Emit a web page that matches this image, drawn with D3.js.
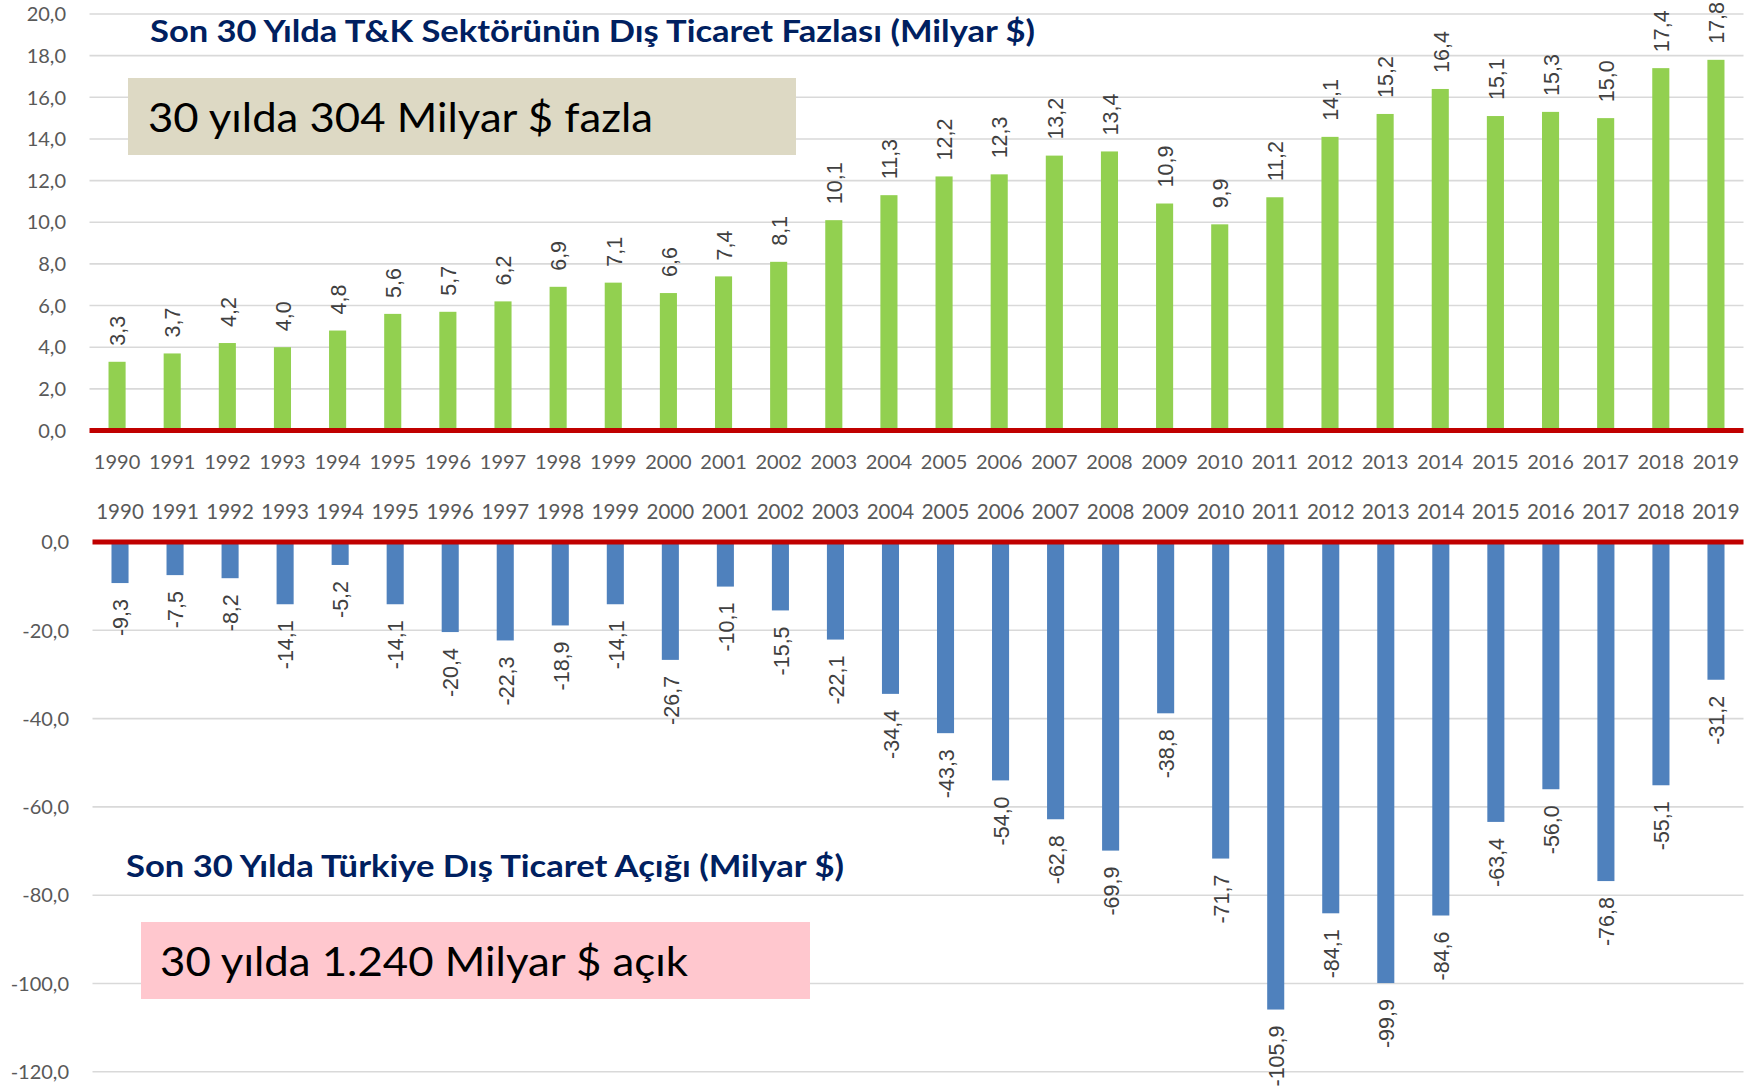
<!DOCTYPE html>
<html><head><meta charset="utf-8">
<script src="https://cdn.jsdelivr.net/npm/d3@7"></script>
<style>
html,body{margin:0;padding:0;background:#fff;}
svg{display:block;}
</style></head>
<body>
<svg id="chart" width="1758" height="1087"></svg>
<script>
const years = ["1990","1991","1992","1993","1994","1995","1996","1997","1998","1999","2000","2001","2002","2003","2004","2005","2006","2007","2008","2009","2010","2011","2012","2013","2014","2015","2016","2017","2018","2019"];
const surplus = [3.3,3.7,4.2,4.0,4.8,5.6,5.7,6.2,6.9,7.1,6.6,7.4,8.1,10.1,11.3,12.2,12.3,13.2,13.4,10.9,9.9,11.2,14.1,15.2,16.4,15.1,15.3,15.0,17.4,17.8];
const deficit = [-9.3,-7.5,-8.2,-14.1,-5.2,-14.1,-20.4,-22.3,-18.9,-14.1,-26.7,-10.1,-15.5,-22.1,-34.4,-43.3,-54.0,-62.8,-69.9,-38.8,-71.7,-105.9,-84.1,-99.9,-84.6,-63.4,-56.0,-76.8,-55.1,-31.2];
const topTicks = [0,2,4,6,8,10,12,14,16,18,20];
const bottomTicks = [0,-20,-40,-60,-80,-100,-120];
const topTitle = "Son 30 Yılda T&K Sektörünün Dış Ticaret Fazlası (Milyar $)";
const topNote = "30 yılda 304 Milyar $ fazla";
const bottomTitle = "Son 30 Yılda Türkiye Dış Ticaret Açığı (Milyar $)";
const bottomNote = "30 yılda 1.240 Milyar $ açık";

const svg = d3.select("#chart");
const fmt = v => d3.format(".1f")(v).replace(".", ",").replace("−","-");
const catFont = "Lato, 'Open Sans', sans-serif";
const valFont = "'Liberation Sans', Arial, sans-serif";
const valSize = 21.5, valGap = 16;

// ---------- TOP CHART ----------
const xTop = d3.scaleBand().domain(years).range([89.5, 1743.5]).paddingInner(0.69).paddingOuter(0.345);
const yTop = d3.scaleLinear().domain([0, 20]).range([430.5, 14]);

const gTop = svg.append("g");
gTop.selectAll("line.grid").data(topTicks.filter(d => d !== 0)).join("line")
  .attr("x1", 89.5).attr("x2", 1743.5)
  .attr("y1", d => yTop(d)).attr("y2", d => yTop(d))
  .attr("stroke", "#D9D9D9").attr("stroke-width", 1.6);
gTop.selectAll("text.ytick").data(topTicks).join("text")
  .attr("x", 66).attr("y", d => yTop(d)).attr("dy", "0.36em")
  .attr("text-anchor", "end").attr("font-family", catFont).attr("font-size", 20)
  .attr("fill", "#595959").text(d => fmt(d));
gTop.selectAll("rect.bar").data(surplus).join("rect")
  .attr("x", (d, i) => xTop(years[i])).attr("width", xTop.bandwidth())
  .attr("y", d => yTop(d)).attr("height", d => yTop(0) - yTop(d))
  .attr("fill", "#92D050");
gTop.append("line").attr("x1", 89.5).attr("x2", 1743.5)
  .attr("y1", yTop(0)).attr("y2", yTop(0))
  .attr("stroke", "#C00000").attr("stroke-width", 5);
gTop.selectAll("text.val").data(surplus).join("text")
  .attr("transform", (d, i) => `translate(${xTop(years[i]) + xTop.bandwidth()/2 + 0.5},${yTop(d) - valGap}) rotate(-90)`)
  .attr("dy", "0.36em").attr("text-anchor", "start")
  .attr("font-family", valFont).attr("font-size", valSize).attr("fill", "#404040")
  .text(d => fmt(d));
gTop.selectAll("text.cat").data(years).join("text")
  .attr("x", d => xTop(d) + xTop.bandwidth()/2).attr("y", 461.5).attr("dy", "0.36em")
  .attr("text-anchor", "middle").attr("font-family", catFont).attr("font-size", 20)
  .attr("fill", "#595959").text(d => d);
gTop.append("text").attr("x", 150).attr("y", 42)
  .attr("font-family", catFont).attr("font-weight", "bold").attr("font-size", 31)
  .attr("fill", "#002060").attr("textLength", 885).attr("lengthAdjust", "spacingAndGlyphs")
  .text(topTitle);
gTop.append("rect").attr("x", 128).attr("y", 78).attr("width", 668).attr("height", 77).attr("fill", "#DDD9C4");
gTop.append("text").attr("x", 148).attr("y", 132)
  .attr("font-family", catFont).attr("font-size", 41).attr("fill", "#000")
  .attr("textLength", 505).attr("lengthAdjust", "spacingAndGlyphs").text(topNote);

// ---------- BOTTOM CHART ----------
const xBot = d3.scaleBand().domain(years).range([92.5, 1743.5]).paddingInner(0.69).paddingOuter(0.345);
const yBot = d3.scaleLinear().domain([-120, 0]).range([1071.8, 542]);

const gBot = svg.append("g");
gBot.selectAll("line.grid").data(bottomTicks.filter(d => d !== 0)).join("line")
  .attr("x1", 92.5).attr("x2", 1743.5)
  .attr("y1", d => yBot(d)).attr("y2", d => yBot(d))
  .attr("stroke", "#D9D9D9").attr("stroke-width", 1.6);
gBot.selectAll("text.ytick").data(bottomTicks).join("text")
  .attr("x", 69).attr("y", d => yBot(d)).attr("dy", "0.36em")
  .attr("text-anchor", "end").attr("font-family", catFont).attr("font-size", 20)
  .attr("fill", "#595959").text(d => fmt(d));
gBot.selectAll("rect.bar").data(deficit).join("rect")
  .attr("x", (d, i) => xBot(years[i])).attr("width", xBot.bandwidth())
  .attr("y", yBot(0)).attr("height", d => yBot(d) - yBot(0))
  .attr("fill", "#4F81BD");
gBot.append("line").attr("x1", 92.5).attr("x2", 1743.5)
  .attr("y1", yBot(0)).attr("y2", yBot(0))
  .attr("stroke", "#C00000").attr("stroke-width", 5);
gBot.selectAll("text.val").data(deficit).join("text")
  .attr("transform", (d, i) => `translate(${xBot(years[i]) + xBot.bandwidth()/2 + 0.5},${yBot(d) + valGap}) rotate(-90)`)
  .attr("dy", "0.36em").attr("text-anchor", "end")
  .attr("font-family", valFont).attr("font-size", valSize).attr("fill", "#404040")
  .text(d => fmt(d));
gBot.selectAll("text.cat").data(years).join("text")
  .attr("x", d => xBot(d) + xBot.bandwidth()/2).attr("y", 511.5).attr("dy", "0.36em")
  .attr("text-anchor", "middle").attr("font-family", catFont).attr("font-size", 20.5)
  .attr("fill", "#595959").text(d => d);
gBot.append("text").attr("x", 126).attr("y", 877)
  .attr("font-family", catFont).attr("font-weight", "bold").attr("font-size", 31)
  .attr("fill", "#002060").attr("textLength", 718).attr("lengthAdjust", "spacingAndGlyphs")
  .text(bottomTitle);
gBot.append("rect").attr("x", 141).attr("y", 922).attr("width", 669).attr("height", 77).attr("fill", "#FFC7CE");
gBot.append("text").attr("x", 160).attr("y", 976)
  .attr("font-family", catFont).attr("font-size", 41).attr("fill", "#000")
  .attr("textLength", 528).attr("lengthAdjust", "spacingAndGlyphs").text(bottomNote);
</script>
</body></html>
